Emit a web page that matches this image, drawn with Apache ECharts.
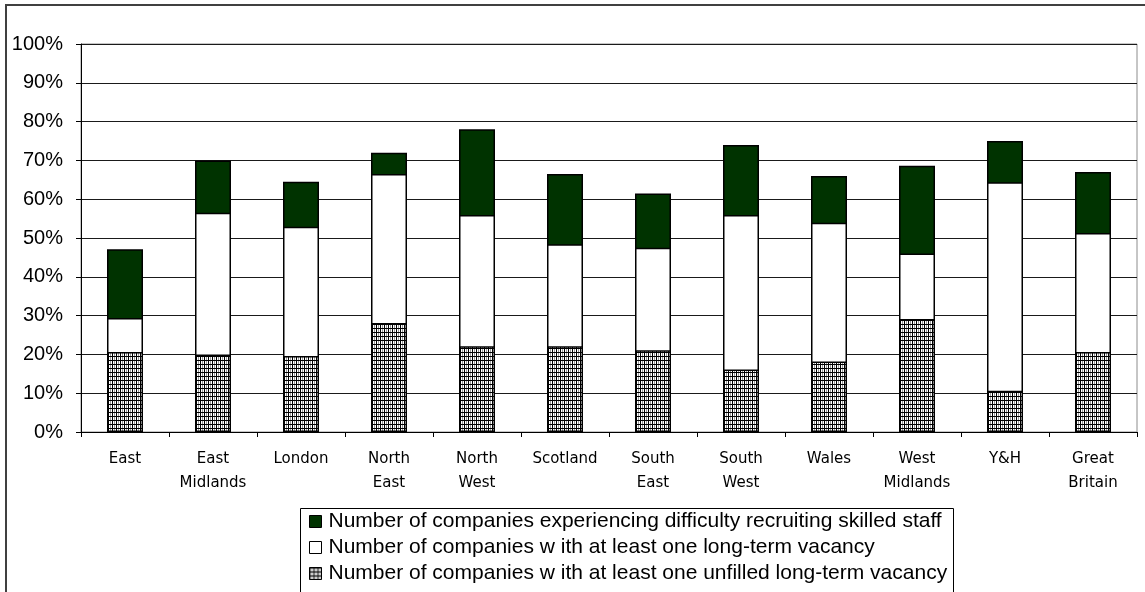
<!DOCTYPE html>
<html>
<head>
<meta charset="utf-8">
<style>html,body{margin:0;padding:0;background:#fff;}#chart{width:1145px;height:592px;}</style>
<script src="https://cdn.jsdelivr.net/npm/echarts@6/dist/echarts.min.js"></script>
</head>
<body>
<div id="chart"></div>
<script>
var categories = ['East', 'East\nMidlands', 'London', 'North\nEast', 'North\nWest', 'Scotland', 'South\nEast', 'South\nWest', 'Wales', 'West\nMidlands', 'Y&H', 'Great\nBritain'];
var difficultyRecruiting = [47.1, 70.0, 64.5, 72.0, 78.0, 66.5, 61.5, 74.0, 66.0, 68.6, 75.0, 67.0];
var longTermVacancy = [29.4, 56.5, 52.9, 66.5, 55.9, 48.4, 47.5, 55.9, 53.9, 46.0, 64.4, 51.3];
var unfilledLongTerm = [20.6, 20.0, 19.6, 28.1, 22.1, 22.1, 21.1, 16.1, 18.2, 29.1, 10.6, 20.6];
var seriesNames = [
  'Number of companies experiencing difficulty recruiting skilled staff',
  'Number of companies w ith at least one long-term vacancy',
  'Number of companies w ith at least one unfilled long-term vacancy'
];

function makeHatch() {
  var c = document.createElement('canvas');
  c.width = 4; c.height = 4;
  var ctx = c.getContext('2d');
  ctx.fillStyle = '#ffffff'; ctx.fillRect(0, 0, 4, 4);
  ctx.fillStyle = '#999999'; ctx.fillRect(2, 0, 1, 4);
  ctx.fillStyle = '#000000'; ctx.fillRect(0, 0, 1, 4); ctx.fillRect(0, 0, 4, 1);
  return c;
}
var hatch = { image: makeHatch(), repeat: 'repeat' };

var chart = echarts.init(document.getElementById('chart'), null, { renderer: 'canvas' });
var barW = 36;
chart.setOption({
  animation: false,
  backgroundColor: '#ffffff',
  graphic: [
    { type: 'rect', shape: { x: 6, y: 5, width: 1160, height: 620 }, style: { fill: 'none', stroke: '#404040', lineWidth: 2 }, z: 100 },
    { type: 'rect', shape: { x: 300.5, y: 508.5, width: 653, height: 200 }, style: { fill: 'none', stroke: '#000000', lineWidth: 1 }, z: 100 }
  ],
  grid: { left: 81, right: 8, top: 44, bottom: 160, show: true, borderColor: '#8c8c8c', borderWidth: 1, backgroundColor: 'transparent' },
  legend: {
    orient: 'vertical', left: 309, top: 511, itemWidth: 12, itemHeight: 12, itemGap: 5,
    icon: 'rect', padding: 0,
    itemStyle: { borderColor: '#000', borderWidth: 1 },
    textStyle: { fontFamily: 'Liberation Sans, Arial, sans-serif', fontSize: 21, color: '#000', lineHeight: 21, padding: [0, 0, 0, 2] },
    data: seriesNames
  },
  xAxis: {
    type: 'category', data: categories,
    axisLine: { lineStyle: { color: '#000', width: 1 } },
    axisTick: { show: true, length: 5, lineStyle: { color: '#000' } },
    axisLabel: { fontFamily: 'DejaVu Sans, sans-serif', fontSize: 15, color: '#000', margin: 15, lineHeight: 24, interval: 0 },
    splitLine: { show: false }
  },
  yAxis: {
    type: 'value', min: 0, max: 100, interval: 10,
    axisLine: { show: true, lineStyle: { color: '#000', width: 1 } },
    axisTick: { show: true, length: 5, lineStyle: { color: '#000' } },
    axisLabel: { formatter: '{value}%', fontFamily: 'Liberation Sans, Arial, sans-serif', fontSize: 20, color: '#000', margin: 18 },
    splitLine: { show: true, lineStyle: { color: '#1a1a1a', width: 1 } }
  },
  series: [
    { name: seriesNames[0], type: 'bar', data: difficultyRecruiting, barWidth: barW, barGap: '-100%',
      itemStyle: { color: '#003300', borderColor: '#000', borderWidth: 1.5 } },
    { name: seriesNames[1], type: 'bar', data: longTermVacancy, barWidth: barW, barGap: '-100%',
      itemStyle: { color: '#ffffff', borderColor: '#000', borderWidth: 1.5 } },
    { name: seriesNames[2], type: 'bar', data: unfilledLongTerm, barWidth: barW, barGap: '-100%',
      itemStyle: { color: hatch, borderColor: '#000', borderWidth: 1.5 } }
  ]
});
</script>
</body>
</html>
